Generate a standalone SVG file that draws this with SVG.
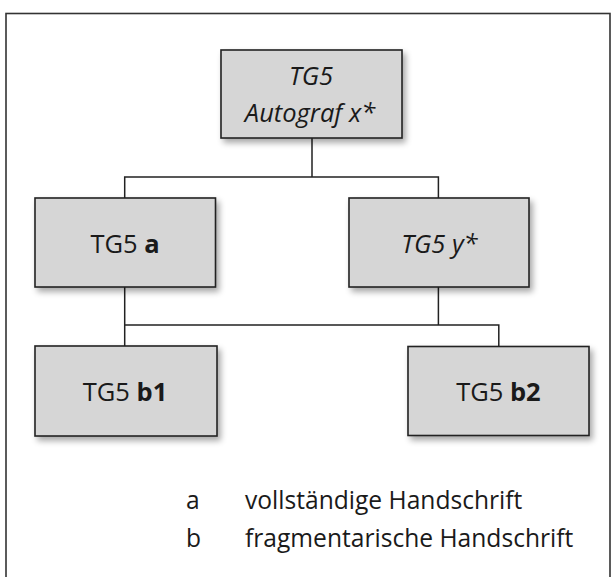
<svg xmlns="http://www.w3.org/2000/svg" width="611" height="577" viewBox="0 0 611 577">
<defs>
<filter id="sh" x="-10%" y="-10%" width="125%" height="130%">
<feGaussianBlur in="SourceAlpha" stdDeviation="3"/>
<feOffset dx="3" dy="4" result="b"/>
<feComponentTransfer><feFuncA type="linear" slope="0.35"/></feComponentTransfer>
<feMerge><feMergeNode/><feMergeNode in="SourceGraphic"/></feMerge>
</filter>
</defs>
<style>
.box{fill:#d6d6d6;stroke:#222;stroke-width:1.6}
.t{font-family:"Open Sans","Noto Sans",sans-serif;font-size:25.5px;fill:#1a1a1a;text-anchor:middle}
.i{font-style:italic}
.b{font-weight:bold}
.lg{font-family:"Open Sans","Noto Sans",sans-serif;font-size:24.6px;fill:#1a1a1a}
.c{fill:none;stroke:#222;stroke-width:1.5}
</style>
<rect x="6" y="13.5" width="604" height="580" fill="none" stroke="#333" stroke-width="1.6"/>
<g id="connectors">
<path class="c" d="M312 138V177M124.7 198V177H438.4V198"/>
<path class="c" d="M124.7 287V346M438.4 287V325M124.7 325H498.8V346.5"/>
</g>
<g id="n-x">
<rect class="box" x="221" y="50" width="181" height="88" filter="url(#sh)"/>
<text class="t i" x="311" y="85">TG5</text>
<text class="t i" x="310" y="122">Autograf x*</text>
</g>
<g id="n-a">
<rect class="box" x="35" y="198" width="180.5" height="89" filter="url(#sh)"/>
<text class="t" x="125" y="253">TG5 <tspan class="b">a</tspan></text>
</g>
<g id="n-y">
<rect class="box" x="349" y="198" width="180" height="89" filter="url(#sh)"/>
<text class="t i" x="439.4" y="253">TG5 y*</text>
</g>
<g id="n-b1">
<rect class="box" x="35" y="346" width="182" height="90" filter="url(#sh)"/>
<text class="t" x="125" y="401">TG5 <tspan class="b">b1</tspan></text>
</g>
<g id="n-b2">
<rect class="box" x="408" y="346.5" width="181" height="89" filter="url(#sh)"/>
<text class="t" x="498.4" y="401">TG5 <tspan class="b">b2</tspan></text>
</g>
<g id="legend">
<text class="lg" x="186" y="509">a</text>
<text class="lg" x="245" y="509">vollständige Handschrift</text>
<text class="lg" x="186" y="546.7">b</text>
<text class="lg" x="245" y="546.7">fragmentarische Handschrift</text>
</g>
</svg>
